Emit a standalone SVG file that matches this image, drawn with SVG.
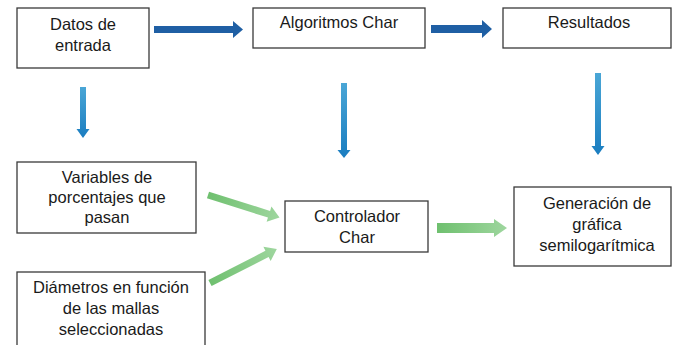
<svg xmlns="http://www.w3.org/2000/svg" width="674" height="345" viewBox="0 0 674 345">
  <defs>
    <style>
      .box { fill: #ffffff; stroke: #3a3a3a; stroke-width: 1.3; }
      .lbl { font-family: "Liberation Sans", Arial, sans-serif; font-size: 16.5px; fill: #1a1a1a; text-anchor: middle; }
      .dark { fill: #1f5fa4; }
      .vert { fill: url(#gBlue); }
      .green { fill: url(#gGreen); }
    </style>
    <linearGradient id="gBlue" x1="0" y1="0" x2="0" y2="1">
      <stop offset="0" stop-color="#4aa6d6"/>
      <stop offset="1" stop-color="#1a7dc0"/>
    </linearGradient>
    <linearGradient id="gGreen" x1="0" y1="0" x2="1" y2="0">
      <stop offset="0" stop-color="#6fc06f"/>
      <stop offset="1" stop-color="#9ed69e"/>
    </linearGradient>
  </defs>

  <rect width="674" height="345" fill="#ffffff"/>

  <!-- connectors -->
  <g id="connectors">
    <!-- block arrows along the top row -->
    <polygon class="dark" points="154,26 233,26 233,21 243,29.5 233,38 233,33 154,33"/>
    <polygon class="dark" points="431,25 482,25 482,20 492,29 482,38 482,33 431,33"/>
    <!-- downward arrows -->
    <polygon class="vert" points="80,87 86,87 86,129 89.5,129 83,138 76.5,129 80,129"/>
    <polygon class="vert" points="341,83 347,83 347,150 350.5,150 344,158 337.5,150 341,150"/>
    <polygon class="vert" points="595,73 601,73 601,146 604.5,146 598,155 591.5,146 595,146"/>
    <!-- green arrows into the controller and out to the chart -->
    <polygon class="green" transform="translate(208,195) rotate(17.5)" points="0,-3.5 64,-3.5 64,-8 75,0 64,8 64,3.5 0,3.5"/>
    <polygon class="green" transform="translate(210,283) rotate(-27)" points="0,-3.5 64,-3.5 64,-8 75,0 64,8 64,3.5 0,3.5"/>
    <polygon class="green" points="437,223 494,223 494,219 507,228 494,237 494,233 437,233"/>
  </g>

  <g id="datos">
    <rect class="box" x="17" y="8" width="132" height="60"/>
    <text class="lbl" x="83" y="30">Datos de</text>
    <text class="lbl" x="83" y="51">entrada</text>
  </g>

  <g id="algoritmos">
    <rect class="box" x="253" y="8" width="172" height="40"/>
    <text class="lbl" x="339" y="28">Algoritmos Char</text>
  </g>

  <g id="resultados">
    <rect class="box" x="503" y="8" width="168" height="40"/>
    <text class="lbl" x="589" y="28">Resultados</text>
  </g>

  <g id="variables">
    <rect class="box" x="17" y="162" width="179" height="71"/>
    <text class="lbl" x="107" y="183">Variables de</text>
    <text class="lbl" x="107" y="203">porcentajes que</text>
    <text class="lbl" x="107" y="223">pasan</text>
  </g>

  <g id="diametros">
    <rect class="box" x="17" y="272" width="188" height="80"/>
    <text class="lbl" x="111" y="293">Diámetros en función</text>
    <text class="lbl" x="111" y="314">de las mallas</text>
    <text class="lbl" x="111" y="335">seleccionadas</text>
  </g>

  <g id="controlador">
    <rect class="box" x="285" y="201" width="143" height="51"/>
    <text class="lbl" x="357" y="222">Controlador</text>
    <text class="lbl" x="357" y="243">Char</text>
  </g>

  <g id="generacion">
    <rect class="box" x="514" y="187" width="157" height="79"/>
    <text class="lbl" x="597" y="209">Generación de</text>
    <text class="lbl" x="597" y="230">gráfica</text>
    <text class="lbl" x="597" y="251">semilogarítmica</text>
  </g>
</svg>
